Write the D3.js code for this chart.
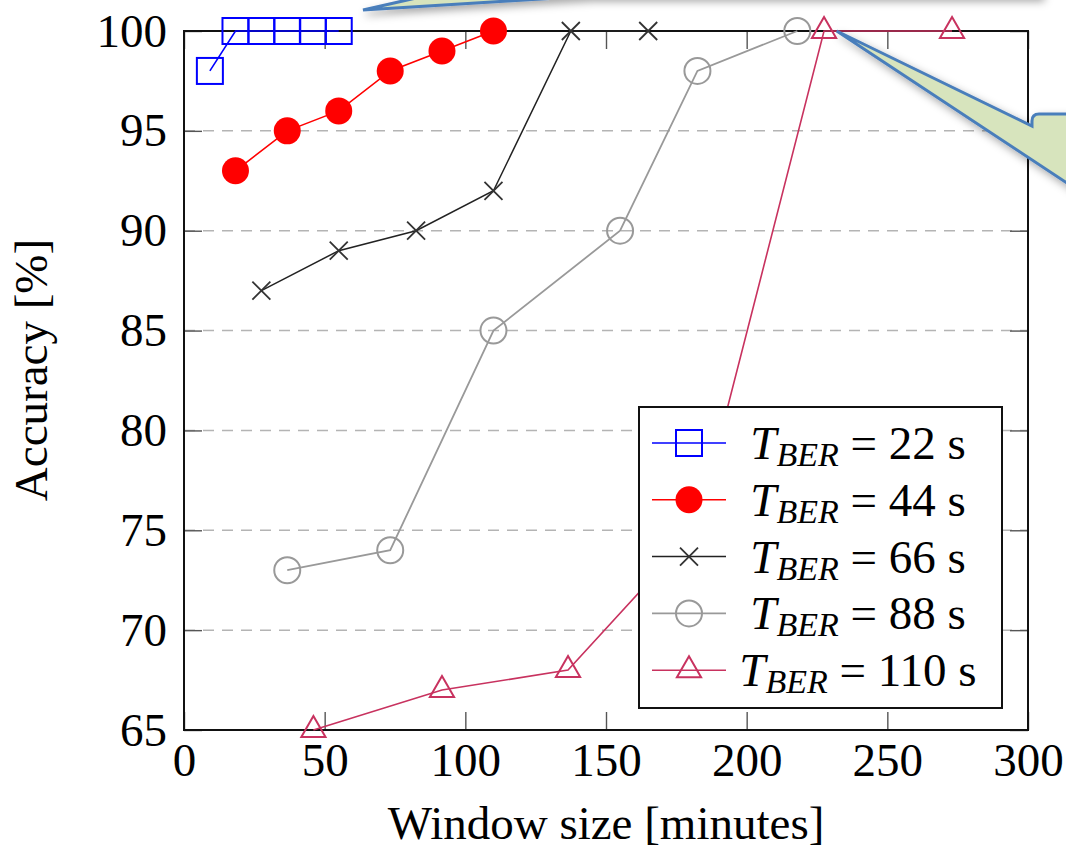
<!DOCTYPE html>
<html>
<head>
<meta charset="utf-8">
<script src="https://cdn.jsdelivr.net/npm/d3@7"></script>
<style>
  html, body { margin: 0; padding: 0; background: #fff; }
  svg { display: block; }
  text { font-family: "Liberation Serif", "DejaVu Serif", serif; }
</style>
</head>
<body>
<div id="chart"></div>
<script>
// data
var xTicks = [0, 50, 100, 150, 200, 250, 300];
var yTicks = [65, 70, 75, 80, 85, 90, 95, 100];
var gridValues = [70, 75, 80, 85, 90, 95];

var tber = ["22", "44", "66", "88", "110"];
var win22 = [9.2, 18.3, 27.5, 36.7, 45.8, 55];
var acc22 = [98, 100, 100, 100, 100, 100];
var win44 = [18.3, 36.7, 55, 73.3, 91.7, 110];
var acc44 = [93, 95, 96, 98, 99, 100];
var win66 = [27.5, 55, 82.5, 110, 137.5, 165];
var acc66 = [87, 89, 90, 92, 100, 100];
var win88 = [36.7, 73.3, 110, 155, 182.5, 218];
var acc88 = [73, 74, 85, 90, 98, 100];
var win110 = [46, 91.7, 136.5, 182, 227.5, 273];
var acc110 = [65, 67, 68, 75, 100, 100];

function draw_chart()
{
  var width = 1066, height = 851;
  var margin = {top: 31, right: 38, bottom: 121, left: 184};
  var font_size = 47;

  var svg = d3.select("#chart").append("svg")
      .attr("width", width)
      .attr("height", height);

  var defs = svg.append("defs");
  var f = defs.append("filter").attr("id", "shadow")
      .attr("x", "-20%").attr("y", "-20%").attr("width", "140%").attr("height", "140%");
  f.append("feDropShadow").attr("dx", 3).attr("dy", 4).attr("stdDeviation", 4)
      .attr("flood-color", "#000").attr("flood-opacity", 0.35);

  var x = d3.scaleLinear().domain([0, 300]).range([margin.left, width - margin.right]);
  var y = d3.scaleLinear().domain([65, 100]).range([height - margin.bottom, margin.top]);

  var series = [
    {name: tber[0], xs: win22, ys: acc22, color: "#0000ff", width: 1.6, mark: "square"},
    {name: tber[1], xs: win44, ys: acc44, color: "#ff0000", width: 1.6, mark: "dot"},
    {name: tber[2], xs: win66, ys: acc66, color: "#222222", width: 1.5, mark: "cross"},
    {name: tber[3], xs: win88, ys: acc88, color: "#999999", width: 1.8, mark: "circle"},
    {name: tber[4], xs: win110, ys: acc110, color: "#c8325f", width: 1.6, mark: "triangle"}
  ];

  // grid
  svg.append("g").selectAll("line")
      .data(gridValues)
    .enter().append("line")
      .attr("x1", x(0)).attr("x2", x(300))
      .attr("y1", function(d) { return y(d); })
      .attr("y2", function(d) { return y(d); })
      .attr("stroke", "#b4b4b4")
      .attr("stroke-width", 1.5)
      .attr("stroke-dasharray", "11,8");

  // axes (ticks inside the frame)
  var tickLen = 18;
  var xAxis = svg.append("g")
      .attr("transform", "translate(0," + y(65) + ")")
      .call(d3.axisBottom(x).tickValues(xTicks).tickSize(-tickLen).tickPadding(13));
  var xTop = svg.append("g")
      .attr("transform", "translate(0," + y(100) + ")")
      .call(d3.axisTop(x).tickValues(xTicks).tickSize(-tickLen).tickFormat(""));
  var yAxis = svg.append("g")
      .attr("transform", "translate(" + x(0) + ",0)")
      .call(d3.axisLeft(y).tickValues(yTicks).tickSize(-tickLen).tickPadding(17));
  var yRight = svg.append("g")
      .attr("transform", "translate(" + x(300) + ",0)")
      .call(d3.axisRight(y).tickValues(yTicks).tickSize(-tickLen).tickFormat(""));

  [xAxis, xTop, yAxis, yRight].forEach(function(a) {
    a.select(".domain").remove();
    a.selectAll(".tick line").attr("stroke", "#555").attr("stroke-width", 1.4);
    a.selectAll("text")
        .attr("font-size", font_size)
        .attr("font-family", "Liberation Serif")
        .attr("fill", "#000");
  });

  // frame
  svg.append("rect")
      .attr("x", x(0)).attr("y", y(100))
      .attr("width", x(300) - x(0)).attr("height", y(65) - y(100))
      .attr("fill", "none")
      .attr("stroke", "#111")
      .attr("stroke-width", 2);

  // axis titles
  svg.append("text")
      .attr("x", (x(0) + x(300)) / 2)
      .attr("y", 839)
      .attr("text-anchor", "middle")
      .attr("font-size", font_size)
      .text("Window size [minutes]");

  svg.append("text")
      .attr("transform", "translate(47," + 370 + ")rotate(-90)")
      .attr("text-anchor", "middle")
      .attr("font-size", font_size)
      .text("Accuracy [%]");

  function drawMark(g, type, color) {
    if (type == "square") {
      g.append("rect").attr("x", -13).attr("y", -13).attr("width", 26).attr("height", 26)
          .attr("fill", "none").attr("stroke", color).attr("stroke-width", 2);
    } else if (type == "dot") {
      g.append("circle").attr("r", 13.5).attr("fill", color);
    } else if (type == "cross") {
      g.append("path").attr("d", "M-9,-9L9,9M-9,9L9,-9")
          .attr("stroke", "#333").attr("stroke-width", 1.8).attr("fill", "none");
    } else if (type == "circle") {
      g.append("circle").attr("r", 13).attr("fill", "none")
          .attr("stroke", color).attr("stroke-width", 2);
    } else if (type == "triangle") {
      g.append("path").attr("d", "M0,-14L12.1,7L-12.1,7Z")
          .attr("fill", "none").attr("stroke", color).attr("stroke-width", 2);
    }
  }

  var line = d3.line()
      .x(function(d) { return x(d[0]); })
      .y(function(d) { return y(d[1]); });

  series.forEach(function(s) {
    var pts = s.xs.map(function(v, i) { return [v, s.ys[i]]; });
    var g = svg.append("g").attr("class", "series");
    g.append("path")
        .datum(pts)
        .attr("d", line)
        .attr("fill", "none")
        .attr("stroke", s.color)
        .attr("stroke-width", s.width);
    g.selectAll(".mark")
        .data(pts)
      .enter().append("g")
        .attr("class", "mark")
        .attr("transform", function(d) { return "translate(" + x(d[0]) + "," + y(d[1]) + ")"; })
        .each(function() { drawMark(d3.select(this), s.mark, s.color); });
  });

  // legend
  var lg = svg.append("g").attr("transform", "translate(639,407)");
  lg.append("rect")
      .attr("width", 363).attr("height", 301)
      .attr("fill", "#fff").attr("stroke", "#111").attr("stroke-width", 2);

  var rows = lg.selectAll(".lrow")
      .data(series)
    .enter().append("g")
      .attr("class", "lrow")
      .attr("transform", function(d, i) { return "translate(0," + (36 + i * 56.8) + ")"; });

  rows.append("line")
      .attr("x1", 13).attr("x2", 87)
      .attr("stroke", function(d) { return d.color; })
      .attr("stroke-width", function(d) { return d.width; });
  rows.append("g")
      .attr("transform", "translate(50,0)")
      .each(function(d) { drawMark(d3.select(this), d.mark, d.color); });

  var t = rows.append("text")
      .attr("x", 219)
      .attr("y", 16)
      .attr("text-anchor", "middle")
      .attr("font-size", font_size);
  t.append("tspan").attr("font-style", "italic").text("T");
  t.append("tspan").attr("font-style", "italic").attr("font-size", 34).attr("dy", 7).text("BER");
  t.append("tspan").attr("dy", -7).text(function(d) { return " = " + d.name + " s"; });

  // callouts (annotation bubbles cut off by the edge of the picture)
  var fill = "#d7e4bd", edge = "#4a7ebb";
  var c1 = svg.append("g").attr("filter", "url(#shadow)");
  c1.append("path")
      .attr("d", "M400,-200 L1040,-200 L1040,-4 L590,-4 L363,10 L425,-4 L400,-4 Z")
      .attr("fill", fill).attr("stroke", edge).attr("stroke-width", 3)
      .attr("stroke-linejoin", "miter");

  var tipX = x(232), tipY = y(100);
  var c2 = svg.append("g").attr("filter", "url(#shadow)");
  c2.append("path")
      .attr("d", "M" + tipX + "," + tipY + " L1032,126 L1032,121 Q1032,114 1039,114" +
            " L1160,114 L1160,230 L1120,218 Z")
      .attr("fill", fill).attr("stroke", edge).attr("stroke-width", 3)
      .attr("stroke-linejoin", "miter");
}
draw_chart();
</script>
</body>
</html>
